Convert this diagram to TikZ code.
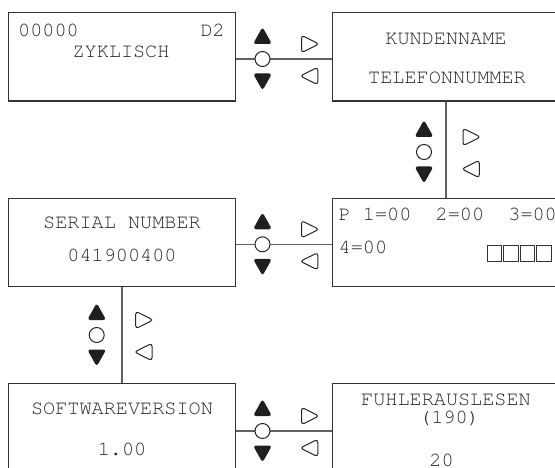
\documentclass[tikz,border=0pt]{standalone}
\usepackage[T1]{fontenc}
\usepackage{courier}

\tikzset{
  box/.style={draw=black!80, line width=1.2pt, minimum width=227.4pt, minimum height=88.7pt, inner sep=0pt},
  lcd/.style={font=\fontencoding{T1}\ttfamily\fontsize{20.2}{24}\selectfont, text=black!85, inner sep=0pt},
  link/.style={draw=black!62, line width=1.3pt},
  taste/.style={draw=black!85, line width=1pt, rounded corners=3pt},
  % Bedientasten: hoch, ok, runter, vor, zurueck
  pics/tasten/.style={code={
    \fill[black!88, rounded corners=3pt] (0,-15) -- (9.5,-15) -- (0,-32) -- (-9.5,-15) -- cycle;
    \fill[black!88, rounded corners=3pt] (0,14.5) -- (9.5,14.5) -- (0,31.5) -- (-9.5,14.5) -- cycle;
    \draw[black!85, line width=1pt, fill=white] (0,0) circle (7.5pt);
    \draw[taste] (39,-15) -- (39,-23.7) -- (56.5,-15) -- (39,-6.3) -- cycle;
    \draw[taste] (55.3,17) -- (55.3,25.7) -- (37.7,17) -- (55.3,8.3) -- cycle;
  }},
}

\begin{document}
\begin{tikzpicture}[x=1pt,y=-1pt]
        \useasboundingbox (0,0) rectangle (555,468);
        \clip (0,0) rectangle (555,468);
        % Anzeigen
        \node[box] (zyk) at (122,56.7) {};
        \node[box] (kunde) at (446,56.7) {};
        \node[box] (serial) at (122,242.5) {};
        \node[box] (pwerte) at (446,242.5) {};
        \node[box] (soft) at (122,428) {};
        \node[box] (fuehler) at (446,428) {};
        % Verbindungen
        \draw[link] ([yshift=-2.3pt]zyk.east) -- ([yshift=-2.3pt]kunde.west);
        \draw[link] (kunde.south) -- (pwerte.north);
        \draw[link] ([yshift=-1.8pt]serial.east) -- ([yshift=-1.8pt]pwerte.west);
        \draw[link] (serial.south) -- (soft.north);
        \draw[link] ([yshift=-3pt]soft.east) -- ([yshift=-3pt]fuehler.west);
        \pic at (262.5,59) {tasten};
        \pic at (424,152) {tasten};
        \pic at (262.5,244.3) {tasten};
        \pic at (96.7,335) {tasten};
        \pic at (262.5,431) {tasten};
        % Texte
        \node[lcd, anchor=base west] (nr) at (18,37) {00000};
        \node[lcd, anchor=base east] (dd) at (225,37) {D2};
        \node[lcd, anchor=base] (zyt) at (121,57.6) {ZYKLISCH};
        \node[lcd, anchor=base] (kn) at (446,44.3) {KUNDENNAME};
        \node[lcd, anchor=base] (tel) at (447,84) {TELEFONNUMMER};
        \node[lcd, anchor=base] (sn) at (122,228.3) {SERIAL NUMBER};
        \node[lcd, anchor=base] (snr) at (122,261.6) {041900400};
        \node[lcd, anchor=base west] (p123) at (338.5,221) {P~1=00~~2=00~~3=00};
        \node[lcd, anchor=base west] (p4) at (338.5,253.3) {4=00};
        \foreach \i in {0,...,3}
            \draw[black!80, line width=1.3pt] (487.3+\i*16.5,245.3) rectangle +(14.4,16.4);
        \node[lcd, anchor=base] (sw) at (122,414.3) {SOFTWAREVERSION};
        \node[lcd, anchor=base] (swv) at (122,455) {1.00};
        \node[lcd, anchor=base] (fa) at (446,405) {FUHLERAUSLESEN};
        \node[lcd, anchor=base] (fan) at (449.5,423) {(190)};
        \node[lcd, anchor=base] (faw) at (441.5,466.6) {20};
\end{tikzpicture}
\end{document}
